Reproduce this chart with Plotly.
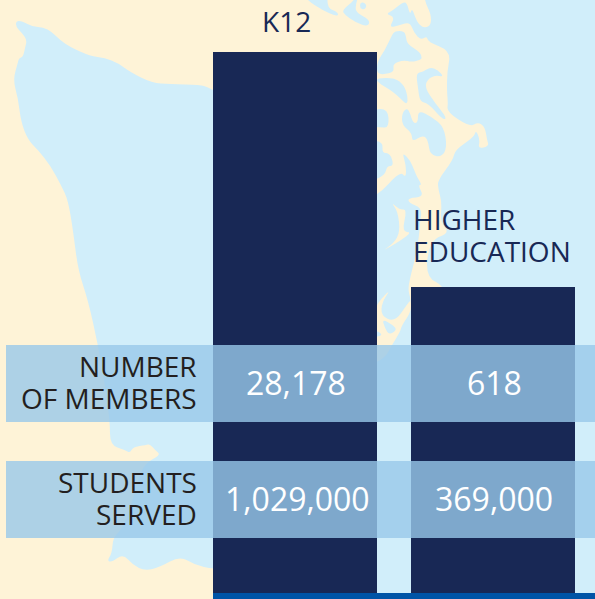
import plotly.graph_objects as go

W, H = 595, 599

# ---- data ----
categories = ["K12", "HIGHER EDUCATION"]
bar_values = [541, 306]  # relative bar heights
row_labels = [["NUMBER", "OF MEMBERS"], ["STUDENTS", "SERVED"]]
members = ["28,178", "618"]
students = ["1,029,000", "369,000"]

# ---- colours ----
NAVY = "#182855"
WATER = "#D1EEFA"
LAND = "#FEF3D7"
BAND = "rgba(153,200,234,0.8)"
STRIP = "#0054A6"
DARK = "#231F20"
FONT = "Open Sans"

# ---- decorative background map outlines, in page pixels ----
land_main = [(-40,300),(-40,-40),(100,-40),(420,-40),(424,0),(431,14),(431,25),(425,28),(419,25),(415,17),(412,8),(410,15),(407,3),(403,2),
    (392,11),(386,14),(395,17),(389,28),(400,25),(410,22),(414,33),(421,40),(427,36),(428,42),(451,51),(447,72),(447,93),
    (448,103),(447,112),(470,127),(478,122),(485,127),(487,140),(489,146),(478,149),(480,140),(476,130),(474,137),(455,150),
    (453,160),(438,180),(438,188),(442,203),(440,222),(450,233),(430,240),(425,277),(447,287),(460,345),(411,345),(411,300),
    (408,290),(410,278),(418,247),(420,223),(422,208),(409,203),(408,198),(424,197),(418,185),(422,185),(417,177),(415,172),
    (410,160),(402,152),(406,165),(406,178),(400,171),(377,197),(340,210),(300,240),(300,660),(100,660),(-40,660)]
water_left = [(16,21),(22,21),(33,27),(43,27),(52,32),(60,40),(70,47),(90,56),(105,58),(118,63),(130,72),(152,83),(170,84),
    (200,85),(208,87),(216,92),(300,100),(300,570),(250,570),(213,569),(195,565),(180,556),(160,567),(145,571),(133,565),(123,554),
    (112,562),(107,561),(112,553),(113,538),(121,530),(130,510),(138,480),(145,463),(161,455),(155,450),(150,444),(146,445),
    (133,447),(130,453),(125,450),(110,445),(110,422),(105,385),(98,345),(88,300),(78,270),(73,230),(68,200),(61,185),(50,165),
    (38,150),(28,140),(21,122),(18,98),(13,80),(18,62),(19,58),(23,57),(25,48),(27,40),(22,33),(16,27)]
water_inlets = [
    [(377,62),(385,50),(392,35),(395,31),(404,31),(406,36),(407,44),(420,52),(422,58),(420,60),(412,62),(403,60),(393,64),(394,70),(391,73),(377,75)],
    [(377,78),(395,78),(404,85),(408,97),(407,105),(400,98),(392,91),(377,82)],
    [(416,73),(423,72),(430,67),(438,70),(444,77),(435,75),(427,80),(425,88),(435,103),(447,118),(443,120),(428,103),(420,102),(418,88)],
    [(407,108),(402,113),(402,125),(412,133),(412,142),(423,135),(428,140),(430,155),(442,157),(447,147),(444,127),(432,117),(418,110),(418,123),(413,123),(410,113)],
    [(370,110),(388,108),(389,128),(380,127),(370,127)],
    [(370,140),(383,142),(382,153),(390,153),(394,166),(387,166),(385,175),(370,182)],
    [(300,-10),(307,0),(322,10),(338,17),(338,12),(327,8),(328,-10)],
    [(358,-10),(355,0),(342,10),(345,15),(355,22),(368,27),(370,20),(357,13),(355,7),(360,-10)],
    [(360,3),(364,2),(367,6),(364,10),(360,8)],
]
land_islands = [
    [(391,202),(400,210),(407,209),(402,232),(412,232),(400,241),(381,252),(394,243),(400,232),(398,212)],
    [(370,320),(378,302),(391,289),(382,302),(381,316),(395,322),(408,303),(411,300),(411,312),(402,325),(400,332),(392,345),(385,358),(370,365)],
]
water_ring = [[(382,319),(393,325),(397,330),(389,335),(385,328)], [(370,328),(385,335),(370,338)]]


def sx(x):
    return x / W


def sy(y):
    return 1 - y / H


def smooth_path(pts):
    mids = [((pts[i][0] + pts[(i + 1) % len(pts)][0]) / 2, (pts[i][1] + pts[(i + 1) % len(pts)][1]) / 2) for i in range(len(pts))]
    d = f"M{sx(mids[-1][0]):.5f},{sy(mids[-1][1]):.5f}"
    for i, p in enumerate(pts):
        d += f" Q{sx(p[0]):.5f},{sy(p[1]):.5f} {sx(mids[i][0]):.5f},{sy(mids[i][1]):.5f}"
    return d + " Z"


def map_shape(pts, color):
    return dict(type="path", xref="paper", yref="paper", path=smooth_path(pts), fillcolor=color, line_width=0, layer="below")


def rect(x0, y0, x1, y1, color):
    return dict(type="rect", xref="paper", yref="paper", x0=sx(x0), x1=sx(x1), y0=sy(y0), y1=sy(y1),
                fillcolor=color, line_width=0, layer="above")


shapes = [map_shape(land_main, LAND), map_shape(water_left, WATER)]
shapes += [map_shape(p, WATER) for p in water_inlets]
shapes += [map_shape(p, LAND) for p in land_islands]
shapes += [map_shape(p, WATER) for p in water_ring]
shapes += [rect(6, 345, 595, 422, BAND), rect(6, 461, 595, 538, BAND), rect(213, 593, 595, 600, STRIP)]


def text(s, x, y, size, color, anchor="center"):
    return dict(text=s, xref="paper", yref="paper", x=sx(x), y=sy(y), xanchor=anchor, yanchor="middle",
                showarrow=False, font=dict(family=FONT, size=size, color=color), borderpad=0)


ann = [
    text(categories[0], 286, 21, 28, NAVY),
    text(categories[1].split()[0], 412, 219, 28, NAVY, "left"),
    text(categories[1].split()[1], 412, 251, 28, NAVY, "left"),
    text(row_labels[0][0], 198, 366, 28, DARK, "right"),
    text(row_labels[0][1], 198, 398, 28, DARK, "right"),
    text(row_labels[1][0], 198, 482, 28, DARK, "right"),
    text(row_labels[1][1], 198, 514, 28, DARK, "right"),
    text(members[0], 296, 382, 32, "white"),
    text(members[1], 494, 382, 32, "white"),
    text(students[0], 297, 498, 32, "white"),
    text(students[1], 494, 498, 32, "white"),
]

fig = go.Figure(go.Bar(x=[0, 1], y=bar_values, width=164 / 198, marker=dict(color=NAVY, line_width=0), hoverinfo="skip"))
fig.update_layout(
    width=W, height=H, margin=dict(l=0, r=0, t=0, b=0), autosize=False,
    paper_bgcolor=WATER, plot_bgcolor="rgba(0,0,0,0)", showlegend=False,
    xaxis=dict(range=[-295 / 198, 300 / 198], visible=False, fixedrange=True),
    yaxis=dict(range=[-6, 593], visible=False, fixedrange=True),
    shapes=shapes, annotations=ann,
)
fig.write_html("out.html", config={"displayModeBar": False},
               post_script="document.body.style.margin='0';document.body.style.overflow='hidden';")
